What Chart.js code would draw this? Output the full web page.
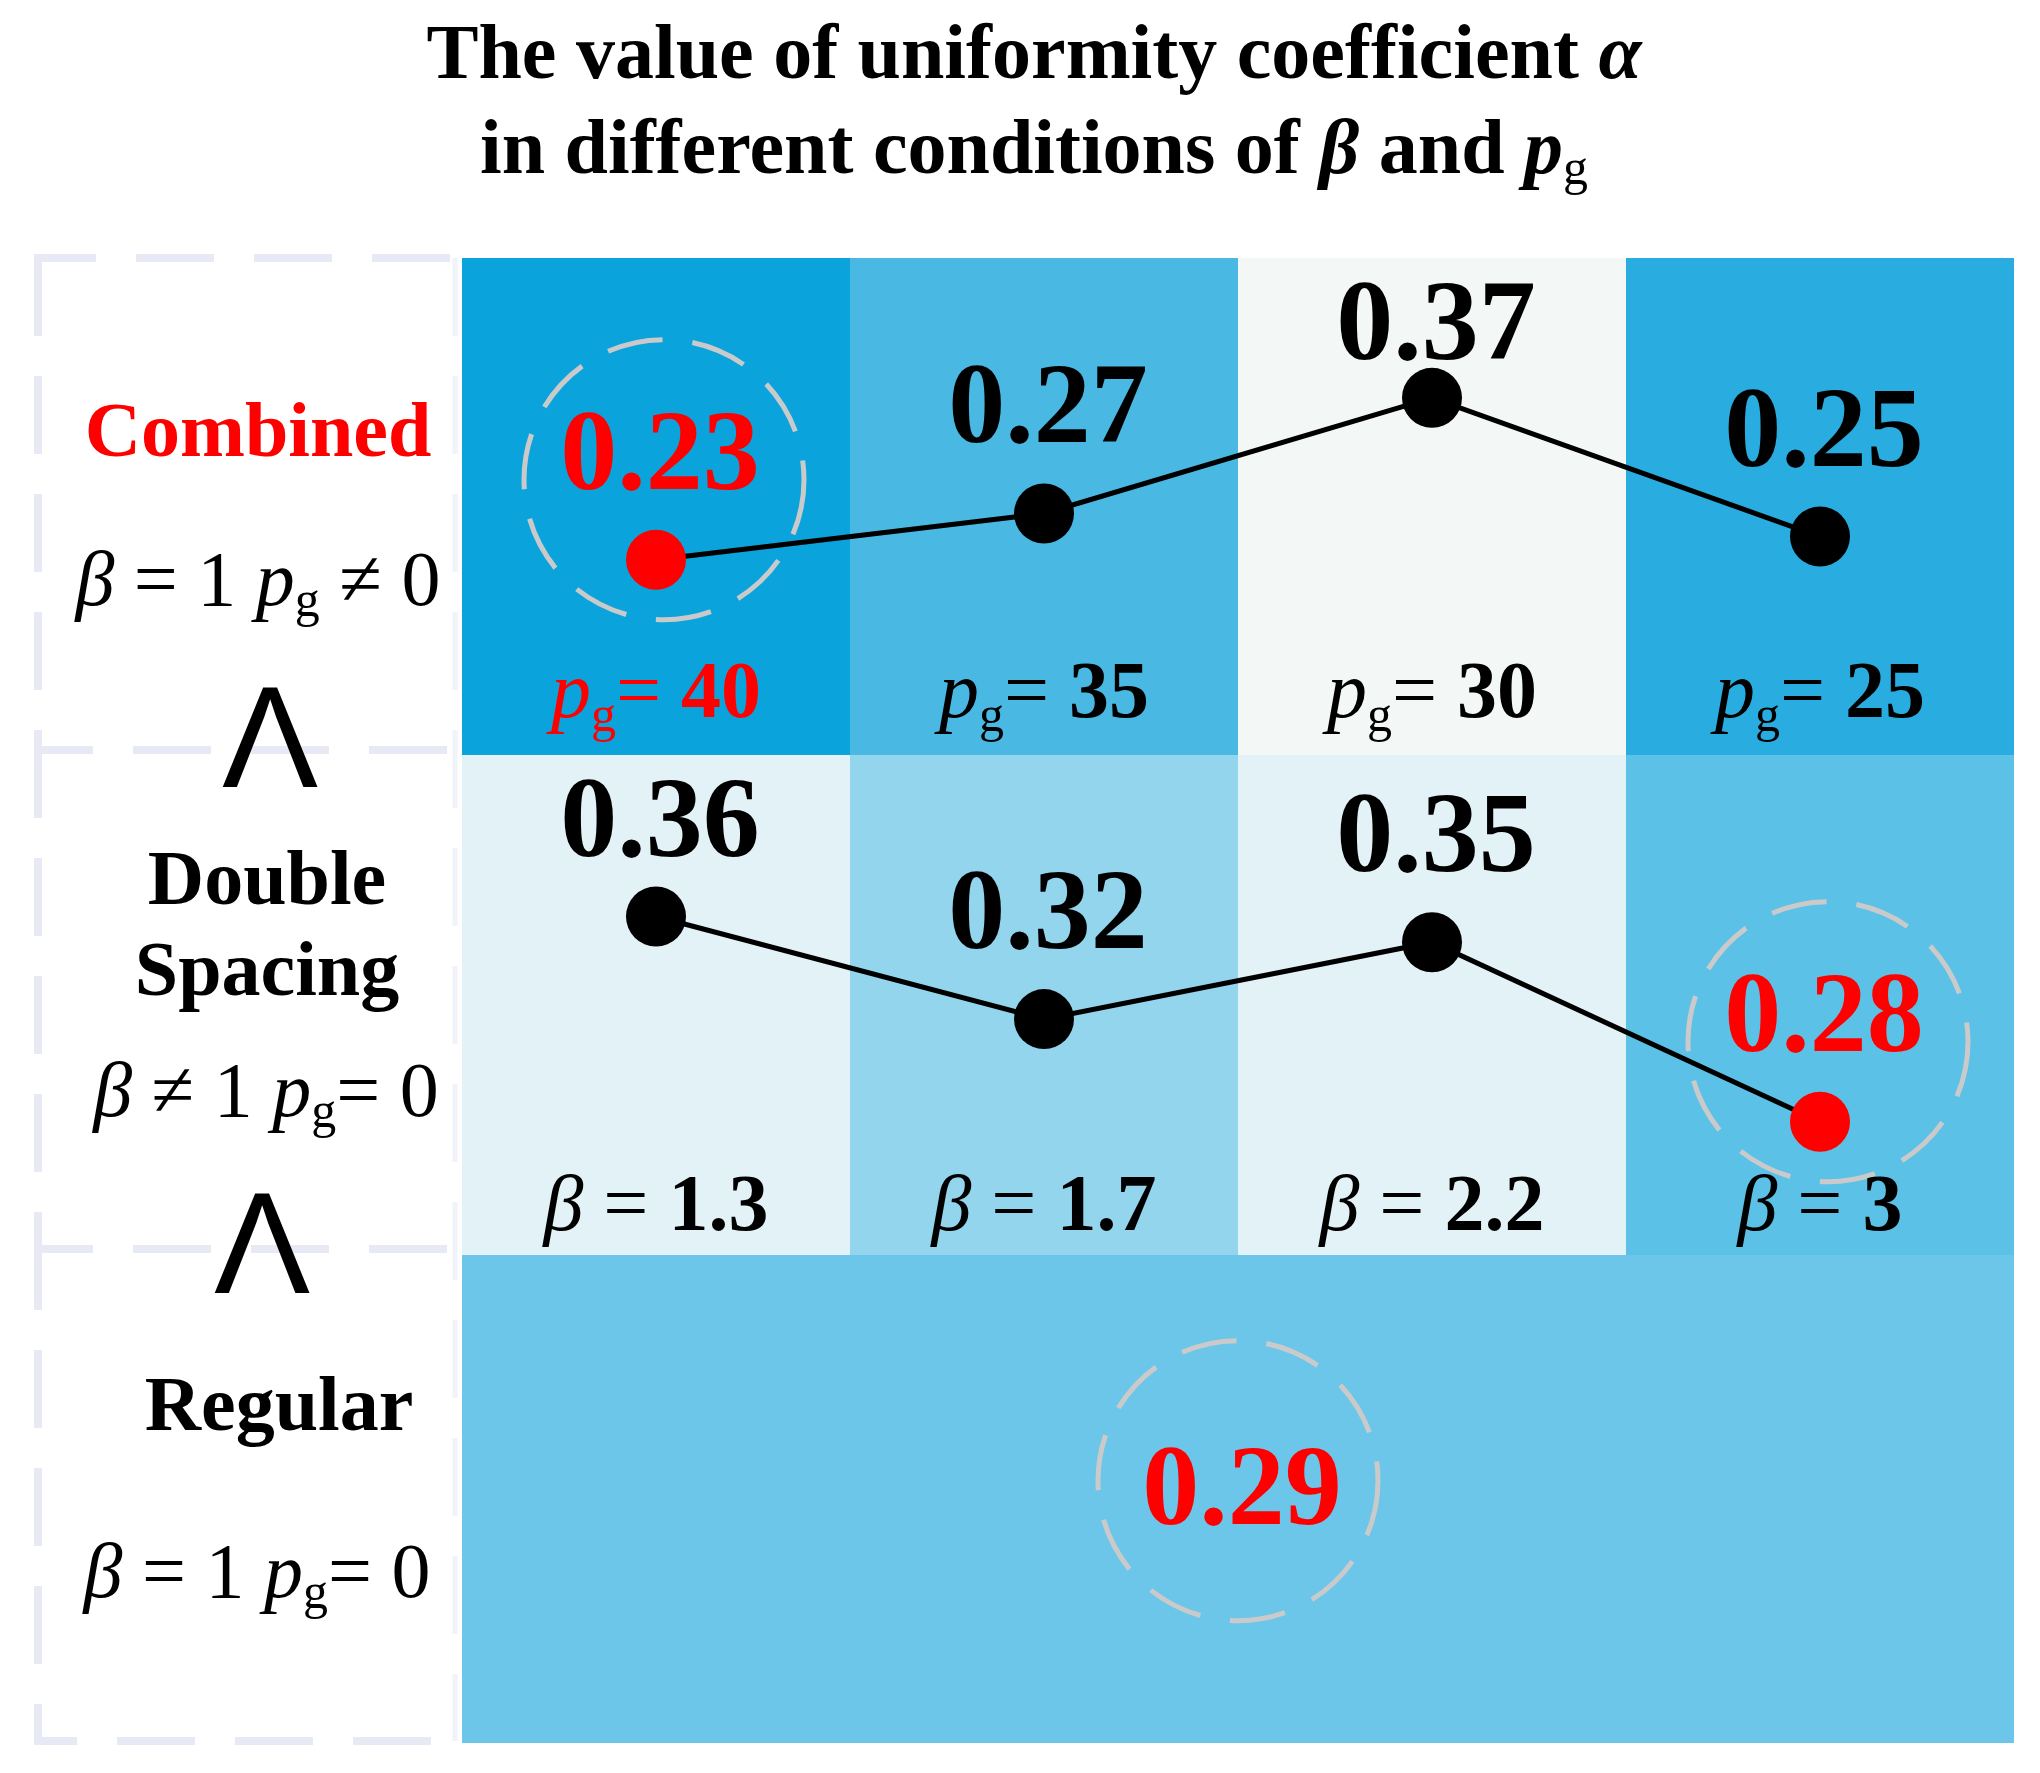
<!DOCTYPE html>
<html>
<head>
<meta charset="utf-8">
<script src="https://cdn.jsdelivr.net/npm/chart.js@4.4.1/dist/chart.umd.min.js"></script>
<style>
html,body{margin:0;padding:0;background:#fff;}
#page{position:relative;width:2040px;height:1773px;overflow:hidden;font-family:"Liberation Serif","Times New Roman",serif;color:#000;}
.t{position:absolute;white-space:nowrap;text-align:center;}
.lab{font-size:78px;line-height:78px;}
.caret{font-family:"Liberation Sans",Arial,sans-serif;font-size:144px;line-height:144px;}
.sub{font-size:0.64em;position:relative;top:0.22em;font-style:normal;font-weight:normal;}
canvas{position:absolute;display:block;}
</style>
</head>
<body>
<div id="page">
  <div class="t" style="left:14px;top:4px;width:2040px;font-weight:bold;font-size:78px;line-height:95px;">The value of uniformity coefficient <i>α</i><br>in different conditions of <i>β</i> and <i>p</i><span class="sub">g</span></div>

  <svg width="2040" height="1773" style="position:absolute;left:0;top:0">
    <g stroke="#E7EAF5" stroke-width="8" fill="none">
      <path d="M38 258 L38 750" stroke-dasharray="78 40"/>
      <path d="M38 750 L38 1249" stroke-dasharray="78 40" stroke-dashoffset="10"/>
      <path d="M38 1249 L38 1741" stroke-dasharray="78 40" stroke-dashoffset="17"/>
      <path d="M34 258 L455 258" stroke-dasharray="78 40" stroke-dashoffset="16"/>
      <path d="M34 750 L455 750" stroke-dasharray="78 40" stroke-dashoffset="19"/>
      <path d="M34 1249 L455 1249" stroke-dasharray="78 40" stroke-dashoffset="19"/>
      <path d="M34 1741 L455 1741" stroke-dasharray="78 40" stroke-dashoffset="35"/>
      <path d="M455 258 L455 1741" stroke-dasharray="78 40" stroke-opacity="0.55" stroke-width="5"/>
    </g>
  </svg>

  <div class="t lab" style="left:8px;top:391px;width:500px;color:#FF0000;font-weight:bold;">Combined</div>
  <div class="t lab" style="left:8px;top:540px;width:500px;"><i>β</i> = 1 <i>p</i><span class="sub">g</span> ≠ 0</div>
  <div class="t caret" style="left:20px;top:666px;width:500px;">Λ</div>

  <div class="t lab" style="left:17px;top:839px;width:500px;font-weight:bold;">Double</div>
  <div class="t lab" style="left:17px;top:930px;width:500px;font-weight:bold;">Spacing</div>
  <div class="t lab" style="left:16px;top:1051px;width:500px;"><i>β</i> ≠ 1 <i>p</i><span class="sub">g</span>= 0</div>
  <div class="t caret" style="left:12px;top:1172px;width:500px;">Λ</div>

  <div class="t lab" style="left:29px;top:1365px;width:500px;font-weight:bold;">Regular</div>
  <div class="t lab" style="left:7px;top:1532px;width:500px;"><i>β</i> = 1 <i>p</i><span class="sub">g</span>= 0</div>

  <canvas id="c1" width="1552" height="497" style="left:462px;top:258px;width:1552px;height:497px"></canvas>
  <canvas id="c2" width="1552" height="500" style="left:462px;top:755px;width:1552px;height:500px"></canvas>
  <canvas id="c3" width="1552" height="488" style="left:462px;top:1255px;width:1552px;height:488px"></canvas>
</div>

<script>
// ---------------- data ----------------
const pgTicks = ['40', '35', '30', '25'];                 // Combined row: p_g values (beta = 1)
const combinedAlpha = [0.23, 0.27, 0.37, 0.25];          // uniformity coefficient alpha
const betaTicks = ['1.3', '1.7', '2.2', '3'];            // Double spacing row: beta values (p_g = 0)
const doubleSpacingAlpha = [0.36, 0.32, 0.35, 0.28];
const regularTicks = ['Regular'];                        // Regular: beta = 1, p_g = 0
const regularAlpha = [0.29];

// ---------------- styles ----------------
const combinedColors = ['#0AA3DC', '#49B9E4', '#F3F8F6', '#29ADE0'];
const doubleSpacingColors = ['#E3F2F6', '#93D5ED', '#E3F2F6', '#5CC1E6'];
const regularColors = ['#6BC6E9'];
const RED = '#FF0000';
const FONT = '"Liberation Serif", "Times New Roman", serif';

function drawRich(ctx, segs, cx, baseline, color) {
  let total = 0;
  segs.forEach(s => { ctx.font = s.font; s.w = ctx.measureText(s.t).width; total += s.w; });
  let x = cx - total / 2;
  ctx.fillStyle = color;
  ctx.textAlign = 'left';
  ctx.textBaseline = 'alphabetic';
  segs.forEach(s => { ctx.font = s.font; ctx.fillText(s.t, x, baseline + (s.dy || 0)); x += s.w; });
}

function tickSegs(kind, tick) {
  if (kind === 'pg') {
    return [
      {t: 'p', font: 'italic 80px ' + FONT},
      {t: 'g', font: '50px ' + FONT, dy: 14},
      {t: '= ', font: '80px ' + FONT},
      {t: tick, font: 'bold 80px ' + FONT}
    ];
  }
  return [
    {t: 'β', font: 'italic 80px ' + FONT},
    {t: ' = ', font: '80px ' + FONT},
    {t: tick, font: 'bold 80px ' + FONT}
  ];
}

const decorPlugin = {
  id: 'rowDecor',
  beforeDatasetsDraw(chart) {
    const cfg = chart.options.plugins.rowDecor;
    const {ctx, chartArea, scales: {x}} = chart;
    ctx.save();
    chart.data.labels.forEach((lab, i) => {
      const l = x.getPixelForValue(i - 0.5);
      const r = x.getPixelForValue(i + 0.5);
      ctx.fillStyle = cfg.colors[i];
      ctx.fillRect(Math.round(l), chartArea.top, Math.round(r) - Math.round(l), chartArea.bottom - chartArea.top);
    });
    ctx.restore();
  },
  afterDatasetsDraw(chart) {
    const cfg = chart.options.plugins.rowDecor;
    const {ctx, chartArea, scales: {x}} = chart;
    const values = chart.data.datasets[0].data;
    const minIdx = values.indexOf(Math.min(...values));
    const meta = chart.getDatasetMeta(0);
    ctx.save();
    values.forEach((v, i) => {
      const p = meta.data[i];
      const hi = i === minIdx;
      const labelCy = cfg.showPoints ? Math.max(p.y - 110, chartArea.top + 62) : p.y;
      if (hi) {
        ctx.save();
        ctx.strokeStyle = '#CACACA';
        ctx.lineWidth = 5;
        ctx.setLineDash([56, 30]);
        ctx.beginPath();
        const cy = cfg.showPoints ? p.y - 80 : labelCy - 4;
        ctx.arc(p.x + (cfg.showPoints ? 8 : 0), cy, 140, 0, Math.PI * 2);
        ctx.stroke();
        ctx.restore();
      }
      ctx.font = 'bold 114px ' + FONT;
      ctx.textAlign = 'center';
      ctx.textBaseline = 'alphabetic';
      ctx.fillStyle = hi ? RED : '#000';
      ctx.fillText(v.toFixed(2), p.x + 4, labelCy + 39);
    });
    if (cfg.tickKind) {
      chart.data.labels.forEach((tick, i) => {
        const cx = x.getPixelForValue(i);
        const col = (cfg.tickHighlight && i === minIdx) ? RED : '#000';
        drawRich(ctx, tickSegs(cfg.tickKind, tick), cx, chartArea.bottom - cfg.tickBase, col);
      });
    }
    ctx.restore();
  }
};

function makeRow(id, labels, values, rowCfg) {
  const minIdx = values.indexOf(Math.min(...values));
  return new Chart(document.getElementById(id), {
    type: 'line',
    data: {
      labels: labels,
      datasets: [{
        data: values,
        borderColor: '#000',
        borderWidth: 5,
        showLine: rowCfg.showPoints,
        pointRadius: rowCfg.showPoints ? 30 : 0,
        pointBorderWidth: 0,
        pointBackgroundColor: values.map((v, i) => i === minIdx ? RED : '#000'),
        tension: 0,
        clip: false
      }]
    },
    options: {
      responsive: false,
      animation: false,
      events: [],
      layout: {padding: 0, autoPadding: false},
      scales: {
        x: {type: 'category', offset: true, display: false},
        y: {type: 'linear', min: rowCfg.yMin, max: rowCfg.yMax, display: false}
      },
      plugins: {
        legend: {display: false},
        tooltip: {enabled: false},
        title: {display: false},
        rowDecor: rowCfg
      }
    },
    plugins: [decorPlugin]
  });
}

makeRow('c1', pgTicks, combinedAlpha, {
  colors: combinedColors, yMin: 0.061, yMax: 0.491, tickKind: 'pg', tickBase: 38, tickHighlight: true, showPoints: true
});
makeRow('c2', betaTicks, doubleSpacingAlpha, {
  colors: doubleSpacingColors, yMin: 0.228, yMax: 0.423, tickKind: 'beta', tickBase: 25, tickHighlight: false, showPoints: true
});
makeRow('c3', regularTicks, regularAlpha, {
  colors: regularColors, yMin: 0.2, yMax: 0.37, tickKind: null, showPoints: false
});
</script>
</body>
</html>
